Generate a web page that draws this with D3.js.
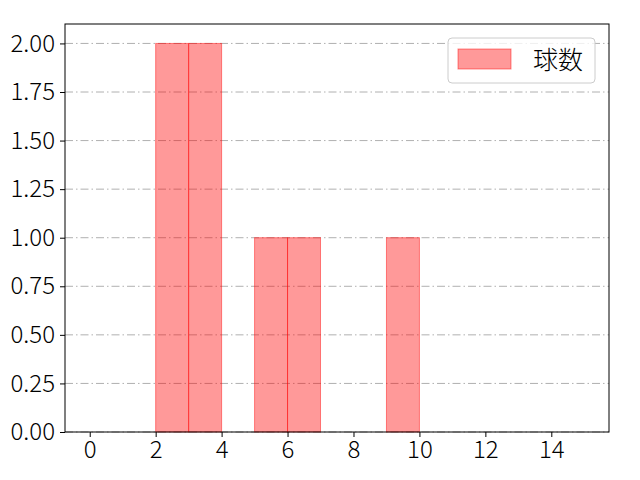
<!DOCTYPE html>
<html>
<head>
<meta charset="utf-8">
<script src="https://cdn.jsdelivr.net/npm/d3@7"></script>
<style>
  body { margin: 0; background: #fff; }
  text { font-family: "Noto Sans CJK JP", "Noto Sans", sans-serif; }
</style>
</head>
<body>
<svg id="chart" width="640" height="480"></svg>
<script>
// histogram bins (left edges) and counts per bin
const binStarts = [0, 1, 2, 3, 4, 5, 6, 7, 8, 9, 10, 11, 12, 13, 14];
const counts = [0, 0, 2, 2, 0, 1, 1, 0, 0, 1, 0, 0, 0, 0, 0];
const binWidth = 1;
const xTicks = [0, 2, 4, 6, 8, 10, 12, 14];
const yTicks = [0, 0.25, 0.5, 0.75, 1.0, 1.25, 1.5, 1.75, 2.0];
const seriesName = "球数";

const margin = { top: 24, right: 31, bottom: 48, left: 65 };
const width = 640 - margin.left - margin.right;
const height = 480 - margin.top - margin.bottom;

const svg = d3.select("#chart");
const g = svg.append("g").attr("transform", `translate(${margin.left},${margin.top})`);

const x = d3.scaleLinear().domain([-0.75, 15.75]).range([0, width]);
const y = d3.scaleLinear().domain([0, 2.1]).range([height, 0]);

// grid
g.append("g")
  .selectAll("line")
  .data(yTicks)
  .join("line")
  .attr("x1", 0)
  .attr("x2", width)
  .attr("y1", (d) => y(d))
  .attr("y2", (d) => y(d))
  .attr("stroke", "#b0b0b0")
  .attr("stroke-width", 1)
  .attr("stroke-dasharray", "8,3,1.5,3");

// bars
const bins = binStarts.map((b, i) => ({ x0: b, x1: b + binWidth, n: counts[i] }));
g.append("g")
  .selectAll("rect")
  .data(bins.filter((d) => d.n > 0))
  .join("rect")
  .attr("x", (d) => x(d.x0))
  .attr("y", (d) => y(d.n))
  .attr("width", (d) => x(d.x1) - x(d.x0))
  .attr("height", (d) => y(0) - y(d.n))
  .attr("fill", "rgba(255,0,0,0.4)")
  .attr("stroke", "rgba(255,0,0,0.45)")
  .attr("stroke-width", 1);

// axes
const xAxis = g.append("g")
  .attr("transform", `translate(0,${height})`)
  .call(d3.axisBottom(x).tickValues(xTicks).tickSize(5).tickPadding(4).tickFormat(d3.format("d")));
const yAxis = g.append("g")
  .call(d3.axisLeft(y).tickValues(yTicks).tickSize(5).tickPadding(5).tickFormat(d3.format(".2f")));

[xAxis, yAxis].forEach((a) => {
  a.select(".domain").remove();
  a.selectAll("text").attr("font-size", 24).attr("fill", "#000")
    .attr("font-weight", 300)
    .style("font-family", '"Noto Sans CJK JP", sans-serif');
  a.selectAll("line").attr("stroke", "#000");
});

// frame
g.append("rect")
  .attr("x", 0).attr("y", 0)
  .attr("width", width).attr("height", height)
  .attr("fill", "none").attr("stroke", "#000").attr("stroke-width", 1);

// legend
const legend = g.append("g").attr("transform", `translate(${448 - margin.left},${38 - margin.top})`);
legend.append("rect")
  .attr("width", 147).attr("height", 45).attr("rx", 4)
  .attr("fill", "rgba(255,255,255,0.8)").attr("stroke", "#cccccc");
legend.append("rect")
  .attr("x", 10).attr("y", 11).attr("width", 53).attr("height", 20)
  .attr("fill", "rgba(255,0,0,0.4)").attr("stroke", "rgba(255,0,0,0.45)");
legend.append("text")
  .attr("x", 85).attr("y", 22).attr("dy", "0.35em")
  .attr("font-size", 25).attr("font-weight", 300).attr("fill", "#000")
  .text(seriesName);
</script>
</body>
</html>
